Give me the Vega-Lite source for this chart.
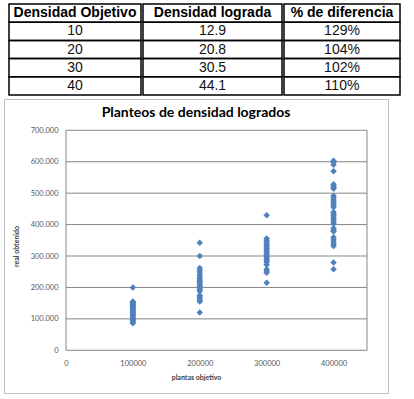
{
  "$schema": "https://vega.github.io/schema/vega-lite/v6.json",
  "background": "white",
  "padding": {"left": 3, "top": 3, "right": 5, "bottom": 5},
  "config": {"font": "Lato"},
  "datasets": {
    "table": [
      {"col": "c1", "row": 0, "text": "Densidad Objetivo"},
      {"col": "c2", "row": 0, "text": "Densidad lograda"},
      {"col": "c3", "row": 0, "text": "% de diferencia"},
      {"col": "c1", "row": 1, "text": "10"},
      {"col": "c2", "row": 1, "text": "12.9"},
      {"col": "c3", "row": 1, "text": "129%"},
      {"col": "c1", "row": 2, "text": "20"},
      {"col": "c2", "row": 2, "text": "20.8"},
      {"col": "c3", "row": 2, "text": "104%"},
      {"col": "c1", "row": 3, "text": "30"},
      {"col": "c2", "row": 3, "text": "30.5"},
      {"col": "c3", "row": 3, "text": "102%"},
      {"col": "c1", "row": 4, "text": "40"},
      {"col": "c2", "row": 4, "text": "44.1"},
      {"col": "c3", "row": 4, "text": "110%"}
    ],
    "points": [
      {"x": 100000, "y": 200000}, {"x": 100000, "y": 155000}, {"x": 100000, "y": 152000}, {"x": 100000, "y": 149000},
      {"x": 100000, "y": 146000}, {"x": 100000, "y": 143000}, {"x": 100000, "y": 140000}, {"x": 100000, "y": 136000},
      {"x": 100000, "y": 132000}, {"x": 100000, "y": 128000}, {"x": 100000, "y": 125000}, {"x": 100000, "y": 121000},
      {"x": 100000, "y": 118000}, {"x": 100000, "y": 114000}, {"x": 100000, "y": 110000}, {"x": 100000, "y": 106000},
      {"x": 100000, "y": 102000}, {"x": 100000, "y": 98000}, {"x": 100000, "y": 94000}, {"x": 100000, "y": 90000},
      {"x": 100000, "y": 86000},
      {"x": 200000, "y": 342000}, {"x": 200000, "y": 300000}, {"x": 200000, "y": 262000}, {"x": 200000, "y": 255000},
      {"x": 200000, "y": 248000}, {"x": 200000, "y": 240000}, {"x": 200000, "y": 234000}, {"x": 200000, "y": 228000},
      {"x": 200000, "y": 223000}, {"x": 200000, "y": 218000}, {"x": 200000, "y": 213000}, {"x": 200000, "y": 208000},
      {"x": 200000, "y": 203000}, {"x": 200000, "y": 198000}, {"x": 200000, "y": 193000}, {"x": 200000, "y": 188000},
      {"x": 200000, "y": 175000}, {"x": 200000, "y": 170000}, {"x": 200000, "y": 165000}, {"x": 200000, "y": 160000},
      {"x": 200000, "y": 155000}, {"x": 200000, "y": 120000},
      {"x": 300000, "y": 430000}, {"x": 300000, "y": 356000}, {"x": 300000, "y": 350000}, {"x": 300000, "y": 345000},
      {"x": 300000, "y": 340000}, {"x": 300000, "y": 335000}, {"x": 300000, "y": 330000}, {"x": 300000, "y": 325000},
      {"x": 300000, "y": 320000}, {"x": 300000, "y": 315000}, {"x": 300000, "y": 310000}, {"x": 300000, "y": 305000},
      {"x": 300000, "y": 300000}, {"x": 300000, "y": 295000}, {"x": 300000, "y": 290000}, {"x": 300000, "y": 285000},
      {"x": 300000, "y": 280000}, {"x": 300000, "y": 272000}, {"x": 300000, "y": 258000}, {"x": 300000, "y": 252000},
      {"x": 300000, "y": 247000}, {"x": 300000, "y": 215000},
      {"x": 400000, "y": 603000}, {"x": 400000, "y": 598000}, {"x": 400000, "y": 590000}, {"x": 400000, "y": 570000},
      {"x": 400000, "y": 528000}, {"x": 400000, "y": 523000}, {"x": 400000, "y": 518000}, {"x": 400000, "y": 514000},
      {"x": 400000, "y": 492000}, {"x": 400000, "y": 485000}, {"x": 400000, "y": 478000}, {"x": 400000, "y": 472000},
      {"x": 400000, "y": 466000}, {"x": 400000, "y": 460000}, {"x": 400000, "y": 455000}, {"x": 400000, "y": 440000},
      {"x": 400000, "y": 434000}, {"x": 400000, "y": 428000}, {"x": 400000, "y": 421000}, {"x": 400000, "y": 415000},
      {"x": 400000, "y": 409000}, {"x": 400000, "y": 403000}, {"x": 400000, "y": 388000}, {"x": 400000, "y": 382000},
      {"x": 400000, "y": 378000}, {"x": 400000, "y": 360000}, {"x": 400000, "y": 352000}, {"x": 400000, "y": 345000},
      {"x": 400000, "y": 338000}, {"x": 400000, "y": 332000}, {"x": 400000, "y": 279000}, {"x": 400000, "y": 258000}
    ],
    "grid": [
      {"g": 100000}, {"g": 200000}, {"g": 300000}, {"g": 400000}, {"g": 500000}, {"g": 600000}
    ]
  },
  "spacing": 2,
  "vconcat": [
    {
      "hconcat": [
        {
          "width": 4, "height": 91,
          "view": {"stroke": null},
          "data": {"values": [{"s": ""}]},
          "mark": {"type": "text"},
          "encoding": {"text": {"field": "s"}}
        },
        {
          "width": 132, "height": 91,
          "view": {"stroke": null},
          "data": {"name": "table"},
          "transform": [{"filter": "datum.col === 'c1'"}],
          "encoding": {
            "y": {"field": "row", "type": "ordinal", "scale": {"paddingInner": 0, "paddingOuter": 0}, "axis": null}
          },
          "layer": [
            {"mark": {"type": "rect", "fill": "transparent", "stroke": "black", "strokeWidth": 1.5},
             "encoding": {"x": {"value": 0}, "x2": {"value": "width"}}},
            {"transform": [{"filter": "datum.row === 0"}],
             "mark": {"type": "text", "font": "Liberation Sans", "fontSize": 14, "fontWeight": "bold", "color": "black"},
             "encoding": {"text": {"field": "text"}}},
            {"transform": [{"filter": "datum.row > 0"}],
             "mark": {"type": "text", "font": "Liberation Sans", "fontSize": 14, "color": "#111"},
             "encoding": {"text": {"field": "text"}}}
          ]
        },
        {
          "width": 139, "height": 91,
          "view": {"stroke": null},
          "data": {"name": "table"},
          "transform": [{"filter": "datum.col === 'c2'"}],
          "encoding": {
            "y": {"field": "row", "type": "ordinal", "scale": {"paddingInner": 0, "paddingOuter": 0}, "axis": null}
          },
          "layer": [
            {"mark": {"type": "rect", "fill": "transparent", "stroke": "black", "strokeWidth": 1.5},
             "encoding": {"x": {"value": 0}, "x2": {"value": "width"}}},
            {"transform": [{"filter": "datum.row === 0"}],
             "mark": {"type": "text", "font": "Liberation Sans", "fontSize": 14, "fontWeight": "bold", "color": "black"},
             "encoding": {"text": {"field": "text"}}},
            {"transform": [{"filter": "datum.row > 0"}],
             "mark": {"type": "text", "font": "Liberation Sans", "fontSize": 14, "color": "#111"},
             "encoding": {"text": {"field": "text"}}}
          ]
        },
        {
          "width": 116, "height": 91,
          "view": {"stroke": null},
          "data": {"name": "table"},
          "transform": [{"filter": "datum.col === 'c3'"}],
          "encoding": {
            "y": {"field": "row", "type": "ordinal", "scale": {"paddingInner": 0, "paddingOuter": 0}, "axis": null}
          },
          "layer": [
            {"mark": {"type": "rect", "fill": "transparent", "stroke": "black", "strokeWidth": 1.5},
             "encoding": {"x": {"value": 0}, "x2": {"value": "width"}}},
            {"transform": [{"filter": "datum.row === 0"}],
             "mark": {"type": "text", "font": "Liberation Sans", "fontSize": 14, "fontWeight": "bold", "color": "black"},
             "encoding": {"text": {"field": "text"}}},
            {"transform": [{"filter": "datum.row > 0"}],
             "mark": {"type": "text", "font": "Liberation Sans", "fontSize": 14, "color": "#111"},
             "encoding": {"text": {"field": "text"}}}
          ]
        }
      ],
      "spacing": 0
    },
    {
      "width": 384, "height": 294,
      "view": {"stroke": "#bfbfbf", "strokeWidth": 1},
      "title": {"text": "Planteos de densidad logrados", "font": "Lato", "fontSize": 14, "fontWeight": "bold", "color": "black", "anchor": "middle", "baseline": "alphabetic", "offset": 0, "dy": 32},
      "layer": [
        {
          "data": {"name": "grid"},
          "mark": {"type": "rule", "color": "#868686", "strokeWidth": 1},
          "encoding": {
            "y": {"field": "g", "type": "quantitative",
                  "scale": {"domain": [-135864, 799591], "nice": false, "zero": false},
                  "axis": {"orient": "left", "offset": -62, "values": [0, 100000, 200000, 300000, 400000, 500000, 600000, 700000],
                           "labelExpr": "replace(format(datum.value, ',d'), ',', '.')",
                           "grid": false, "ticks": false, "domain": false, "labelFont": "Lato", "labelFontSize": 7.5, "labelColor": "#595959",
                           "labelPadding": 8, "title": "real obtenido", "titleFont": "Lato", "titleFontSize": 7, "titleFontWeight": "bold",
                           "titleColor": "#404040", "titlePadding": 11}},
            "x": {"datum": 0, "type": "quantitative",
                  "scale": {"domain": [-92691, 481395], "nice": false, "zero": false},
                  "axis": {"orient": "bottom", "offset": -42.7, "values": [0, 100000, 200000, 300000, 400000], "format": "d",
                           "grid": false, "ticks": false, "domain": false, "labelFont": "Lato", "labelFontSize": 7.5, "labelColor": "#595959",
                           "labelPadding": 9, "title": "plantas objetivo", "titleFont": "Lato", "titleFontSize": 7, "titleFontWeight": "bold",
                           "titleColor": "#404040", "titlePadding": 7}},
            "x2": {"datum": 450000}
          }
        },
        {
          "data": {"name": "grid"},
          "transform": [{"filter": "datum.g === 100000"}],
          "mark": {"type": "rect", "fill": "transparent", "stroke": "#868686", "strokeWidth": 1},
          "encoding": {
            "x": {"datum": 0, "type": "quantitative"},
            "x2": {"datum": 450000},
            "y": {"datum": 0, "type": "quantitative"},
            "y2": {"datum": 700000}
          }
        },
        {
          "data": {"name": "points"},
          "mark": {"type": "point", "shape": "diamond", "filled": true, "size": 42, "color": "#4F81BD", "opacity": 1},
          "encoding": {
            "x": {"field": "x", "type": "quantitative"},
            "y": {"field": "y", "type": "quantitative"}
          }
        }
      ]
    }
  ]
}
